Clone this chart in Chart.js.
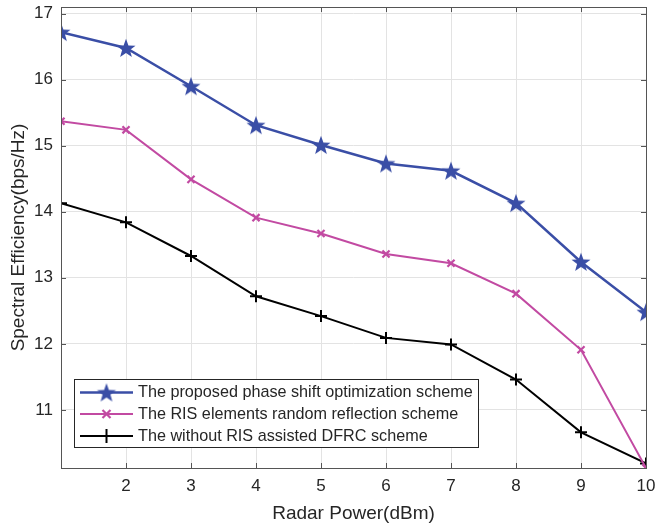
<!DOCTYPE html>
<html>
<head>
<meta charset="utf-8">
<script src="https://cdn.jsdelivr.net/npm/chart.js@4.4.0/dist/chart.umd.min.js"></script>
<style>
  html, body { margin: 0; padding: 0; background: #ffffff; }
  #wrap { width: 656px; height: 531px; }
</style>
</head>
<body>
<div id="wrap"><canvas id="c" width="656" height="531"></canvas></div>
<script>
const radarPower = [1, 2, 3, 4, 5, 6, 7, 8, 9, 10];
const proposedScheme = [16.72, 16.48, 15.90, 15.31, 15.01, 14.73, 14.62, 14.13, 13.24, 12.48];
const randomReflection = [15.37, 15.24, 14.49, 13.91, 13.67, 13.36, 13.22, 12.76, 11.91, 10.12];
const withoutRIS = [14.13, 13.84, 13.33, 12.72, 12.42, 12.09, 11.99, 11.46, 10.66, 10.19];
const xTicks = [2, 3, 4, 5, 6, 7, 8, 9, 10];
const yTicks = [11, 12, 13, 14, 15, 16, 17];
const seriesLabels = [
  'The proposed phase shift optimization scheme',
  'The RIS elements random reflection scheme',
  'The without RIS assisted DFRC scheme'
];

const BLUE = '#3a4ea6';
const PINK = '#c24aa2';
const BLACK = '#000000';
const AXIS = '#262626';
const FONT = '"Liberation Sans", Arial, Helvetica, sans-serif';

function starPath(ctx, cx, cy, R, r) {
  ctx.beginPath();
  for (let i = 0; i < 10; i++) {
    const rad = (i % 2 === 0) ? R : r;
    const a = -Math.PI / 2 + i * Math.PI / 5;
    const px = cx + rad * Math.cos(a), py = cy + rad * Math.sin(a);
    if (i === 0) ctx.moveTo(px, py); else ctx.lineTo(px, py);
  }
  ctx.closePath();
}
const starCanvas = document.createElement('canvas');
starCanvas.width = 22; starCanvas.height = 22;
(function () {
  const s = starCanvas.getContext('2d');
  starPath(s, 11, 11.8, 10, 4.1);
  s.fillStyle = BLUE; s.fill();
})();

function toXY(ys) { return radarPower.map((x, i) => ({ x: x, y: ys[i] })); }

const framePlugin = {
  id: 'frame',
  afterDatasetsDraw(chart) {
    const { ctx, chartArea: a, scales } = chart;
    ctx.save();
    ctx.strokeStyle = '#555555';
    ctx.lineWidth = 1;
    const L = 5;
    ctx.beginPath();
    xTicks.forEach(v => {
      const px = Math.round(scales.x.getPixelForValue(v)) + 0.5;
      ctx.moveTo(px, a.bottom); ctx.lineTo(px, a.bottom - L);
      ctx.moveTo(px, a.top); ctx.lineTo(px, a.top + L);
    });
    yTicks.forEach(v => {
      const py = Math.round(scales.y.getPixelForValue(v)) + 0.5;
      ctx.moveTo(a.left, py); ctx.lineTo(a.left + L, py);
      ctx.moveTo(a.right, py); ctx.lineTo(a.right - L, py);
    });
    ctx.stroke();
    ctx.strokeRect(Math.round(a.left) + 0.5, Math.round(a.top) + 0.5,
      Math.round(a.right - a.left), Math.round(a.bottom - a.top));
    ctx.restore();
  },
  afterDraw(chart) {
    const { ctx } = chart;
    ctx.save();
    const bx = 74.5, by = 379.5, bw = 404, bh = 68;
    ctx.fillStyle = '#ffffff';
    ctx.fillRect(bx, by, bw, bh);
    ctx.strokeStyle = AXIS;
    ctx.lineWidth = 1;
    ctx.strokeRect(bx, by, bw, bh);
    const rows = [392.5, 414, 436];
    const colors = [BLUE, PINK, BLACK];
    ctx.font = '16.2px ' + FONT;
    ctx.textBaseline = 'middle';
    rows.forEach((ry, i) => {
      ctx.strokeStyle = colors[i];
      ctx.lineWidth = i === 0 ? 2.5 : 2;
      ctx.beginPath(); ctx.moveTo(80, ry); ctx.lineTo(133, ry); ctx.stroke();
      const mx = 106.5;
      if (i === 0) {
        ctx.drawImage(starCanvas, mx - 11, ry - 11);
      } else if (i === 1) {
        ctx.lineWidth = 2.2;
        ctx.beginPath();
        ctx.moveTo(mx - 4, ry - 4); ctx.lineTo(mx + 4, ry + 4);
        ctx.moveTo(mx + 4, ry - 4); ctx.lineTo(mx - 4, ry + 4);
        ctx.stroke();
      } else {
        ctx.lineWidth = 2;
        ctx.beginPath();
        ctx.moveTo(mx, ry - 7); ctx.lineTo(mx, ry + 7);
        ctx.stroke();
      }
      ctx.fillStyle = AXIS;
      ctx.fillText(seriesLabels[i], 138, ry + 0.5);
    });
    ctx.restore();
  }
};

new Chart(document.getElementById('c'), {
  type: 'line',
  data: {
    datasets: [
      {
        label: seriesLabels[0], data: toXY(proposedScheme),
        borderColor: BLUE, backgroundColor: BLUE, borderWidth: 2.5,
        pointStyle: starCanvas, pointRadius: 9, pointHoverRadius: 9
      },
      {
        label: seriesLabels[1], data: toXY(randomReflection),
        borderColor: PINK, backgroundColor: PINK, borderWidth: 2,
        pointStyle: 'crossRot', pointRadius: 5, pointBorderWidth: 2.2
      },
      {
        label: seriesLabels[2], data: toXY(withoutRIS),
        borderColor: BLACK, backgroundColor: BLACK, borderWidth: 2,
        pointStyle: 'cross', pointRadius: 6, pointBorderWidth: 2
      }
    ]
  },
  options: {
    responsive: false,
    animation: false,
    layout: { autoPadding: false, padding: { top: 7, right: 10, left: 0, bottom: 0 } },
    plugins: { legend: { display: false }, tooltip: { enabled: false } },
    scales: {
      x: {
        type: 'linear', min: 1, max: 10,
        afterBuildTicks(s) { s.ticks = xTicks.map(v => ({ value: v })); },
        afterFit(s) { s.height = 63; s.paddingLeft = 0; s.paddingRight = 0; },
        grid: { color: '#e3e3e3', drawTicks: false, lineWidth: 1 },
        border: { display: false },
        ticks: { color: AXIS, font: { family: FONT, size: 17 }, padding: 8, maxRotation: 0, autoSkip: false },
        title: { display: true, text: 'Radar Power(dBm)', color: AXIS, font: { family: FONT, size: 19 }, padding: { top: 4, bottom: 6 } }
      },
      y: {
        type: 'linear', min: 10.12, max: 17.1,
        afterBuildTicks(s) { s.ticks = yTicks.map(v => ({ value: v })); },
        afterFit(s) { s.width = 61; s.paddingTop = 0; s.paddingBottom = 0; },
        grid: { color: '#e3e3e3', drawTicks: false, lineWidth: 1 },
        border: { display: false },
        ticks: { color: AXIS, font: { family: FONT, size: 17 }, padding: 8, autoSkip: false },
        title: { display: true, text: 'Spectral Efficiency(bps/Hz)', color: AXIS, font: { family: FONT, size: 19 }, padding: { top: 7, bottom: 4 } }
      }
    }
  },
  plugins: [framePlugin]
});
</script>
</body>
</html>
